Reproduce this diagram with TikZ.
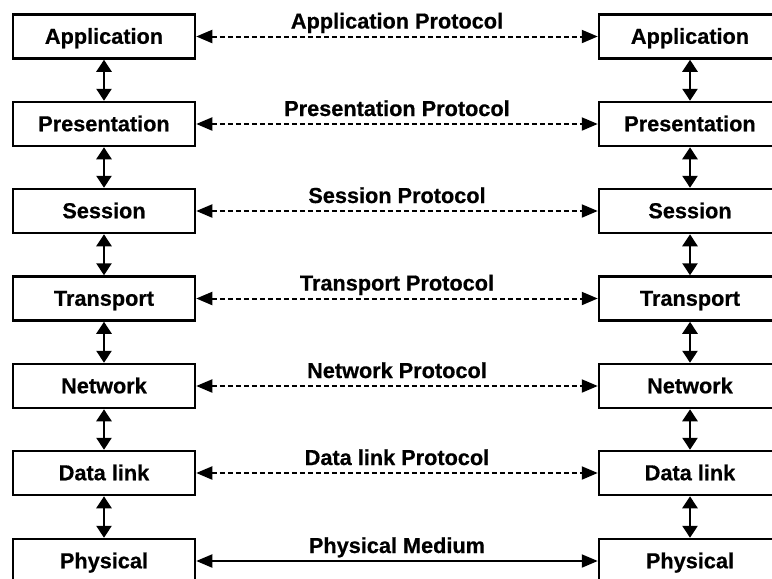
\documentclass[tikz,border=0pt]{standalone}
\usepackage{fontspec}
\setmainfont{Liberation Sans}[BoldFeatures={FakeBold=0.6}]
\usetikzlibrary{arrows.meta}
\begin{document}
\begin{tikzpicture}[x=1pt,y=-1pt,
  layer/.style={draw, line width=2.5pt, minimum width=182pt, minimum height=44pt,
    inner sep=0pt, text height=14.5pt, text depth=0pt,
    font=\fontsize{21.7}{24}\selectfont\bfseries},
  vlink/.style={line width=2.8pt, {Triangle[length=12pt,width=15pt]}-{Triangle[length=12pt,width=15pt]}},
  peer/.style={line width=2pt, dash pattern=on 5pt off 3pt, {Triangle[length=16pt,width=13pt]}-{Triangle[length=16pt,width=13pt]}},
  medium/.style={line width=2pt, {Triangle[length=16pt,width=13pt]}-{Triangle[length=16pt,width=13pt]}},
  plabel/.style={anchor=base, yshift=8pt, inner sep=0pt,
    font=\fontsize{21.7}{24}\selectfont\bfseries}]
\useasboundingbox (0,0) rectangle (772,579);

% two protocol stacks
\foreach \n/\t/\y in {1/Application/36.5, 2/Presentation/124, 3/Session/211,
                      4/Transport/298.5, 5/Network/386, 6/Data link/473, 7/Physical/561} {
  \node[layer] (L\n) at (104,\y) {\t};
  \node[layer] (R\n) at (690,\y) {\t};
}

% interfaces between adjacent layers
\foreach \a/\b in {1/2, 2/3, 3/4, 4/5, 5/6, 6/7} {
  \draw[vlink] (L\a.south) -- (L\b.north);
  \draw[vlink] (R\a.south) -- (R\b.north);
}

% peer-to-peer protocols
\foreach \n/\t in {1/Application Protocol, 2/Presentation Protocol, 3/Session Protocol,
                   4/Transport Protocol, 5/Network Protocol, 6/Data link Protocol} {
  \draw[peer] (L\n.east) -- (R\n.west) node[plabel, pos=0.5] (P\n) {\t};
}
\draw[medium] (L7.east) -- (R7.west) node[plabel, pos=0.5] (P7) {Physical Medium};
\end{tikzpicture}
\end{document}
